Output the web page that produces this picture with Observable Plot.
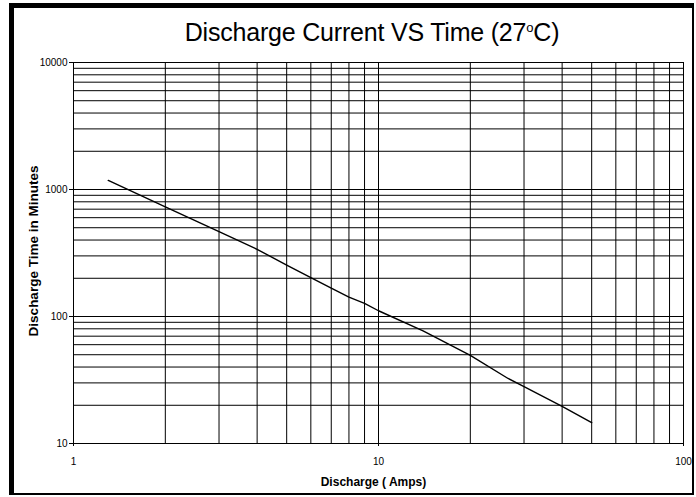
<!DOCTYPE html>
<html>
<head>
<meta charset="utf-8">
<script src="https://cdn.jsdelivr.net/npm/d3@7"></script>
<script src="https://cdn.jsdelivr.net/npm/@observablehq/plot@0.6"></script>
<style>
  html, body { margin: 0; padding: 0; background: #fff; }
  #wrap { position: relative; width: 696px; height: 497px; overflow: hidden; font-family: "Liberation Sans", Arial, sans-serif; }
  #border { position: absolute; left: 9px; top: 3px; width: 685px; height: 492px; box-sizing: border-box;
            border-left: 5px solid #000; border-top: 5px solid #000; border-right: 2px solid #000; border-bottom: 2px solid #000; }
  #title { position: absolute; left: 0; width: 744px; top: 18px; text-align: center; font-size: 25px; color: #000; letter-spacing: -0.2px; }
  #title sup { font-size: 13px; vertical-align: 9px; line-height: 0; }
  #chart { position: absolute; left: 0; top: 0; }
</style>
</head>
<body>
<div id="wrap">
  <div id="border"></div>
  <div id="chart"></div>
  <div id="title">Discharge Current VS Time (27<sup>o</sup>C)</div>
</div>
<script>
// Discharge current (A) and discharge time (minutes)
const amps    = [1.3, 2, 3, 4, 5, 6, 7, 8, 9, 10, 14, 20, 26.6, 30, 40, 50];
const minutes = [1180, 730, 466, 338, 254, 202, 167, 142, 127, 111, 77, 49.5, 32.5, 28, 19.6, 14.6];

// grid and tick values
const gridX = [1, 2, 3, 4, 5, 6, 7, 8, 9, 10, 20, 30, 40, 50, 60, 70, 80, 90, 100];
const gridY = [10, 20, 30, 40, 50, 60, 70, 80, 90, 100, 200, 300, 400, 500, 600, 700, 800, 900,
               1000, 2000, 3000, 4000, 5000, 6000, 7000, 8000, 9000, 10000];
const xTicks = [1, 10, 100];
const yTicks = [10, 100, 1000, 10000];

const xTitle = "Discharge ( Amps)";
const yTitle = "Discharge Time in Minutes";

const data = amps.map((a, i) => ({amps: a, minutes: minutes[i]}));

const chart = Plot.plot({
  width: 696,
  height: 497,
  marginLeft: 73,
  marginRight: 13,
  marginTop: 62,
  marginBottom: 54,
  style: {fontFamily: "'Liberation Sans', Arial, sans-serif", fontSize: "10px", background: "transparent", color: "#000"},
  x: {type: "log", domain: [1, 100]},
  y: {type: "log", domain: [10, 10000]},
  marks: [
    Plot.ruleX(gridX, {stroke: "#000", strokeWidth: 1}),
    Plot.ruleY(gridY, {stroke: "#000", strokeWidth: 1}),
    Plot.frame({stroke: "#000"}),
    Plot.axisX({ticks: xTicks, tickFormat: d => String(d), tickSize: 3, tickPadding: 11, label: null, fontSize: 10, style: {letterSpacing: "-0.5px"}}),
    Plot.axisY({ticks: yTicks, tickFormat: d => String(d), tickSize: 4, tickPadding: 2, label: null, fontSize: 10, style: {letterSpacing: "-0.6px"}}),
    Plot.line(data, {x: "amps", y: "minutes", stroke: "#000", strokeWidth: 1.4}),
    Plot.text([xTitle], {frameAnchor: "bottom", dy: 42, dx: -5, text: d => d, fontSize: 12, fontWeight: "bold", fill: "#000", textAnchor: "middle", style: {letterSpacing: "-0.3px"}}),
    Plot.text([yTitle], {frameAnchor: "left", dx: -40, dy: -2, rotate: -90, text: d => d, fontSize: 13.5, fontWeight: "bold", fill: "#000", textAnchor: "middle", style: {letterSpacing: "-0.2px"}})
  ]
});
document.getElementById("chart").appendChild(chart);
</script>
</body>
</html>
